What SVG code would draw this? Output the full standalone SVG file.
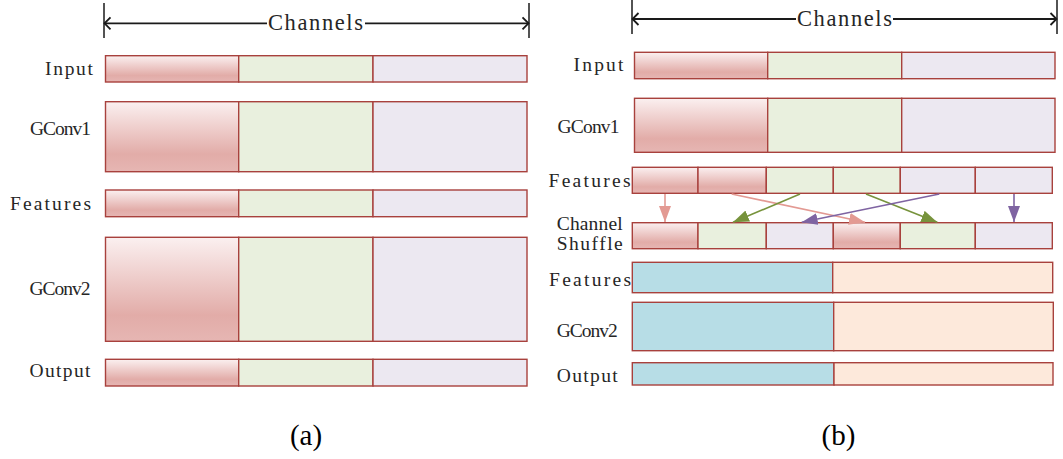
<svg xmlns="http://www.w3.org/2000/svg" width="1063" height="459" viewBox="0 0 1063 459">
<defs>
<linearGradient id="redg" x1="0" y1="0" x2="0" y2="1">
<stop offset="0" stop-color="#fbf0f0"/>
<stop offset="0.75" stop-color="#e2aca8"/>
<stop offset="1" stop-color="#e6b6b3"/>
</linearGradient>
<marker id="ah-pink" viewBox="0 0 16 12" refX="16" refY="6" markerWidth="16" markerHeight="12" markerUnits="userSpaceOnUse" orient="auto"><path d="M0,0 L16,6 L0,12 Z" fill="#e39a93"/></marker>
<marker id="ah-green" viewBox="0 0 16 12" refX="16" refY="6" markerWidth="16" markerHeight="12" markerUnits="userSpaceOnUse" orient="auto"><path d="M0,0 L16,6 L0,12 Z" fill="#77933c"/></marker>
<marker id="ah-purple" viewBox="0 0 16 12" refX="16" refY="6" markerWidth="16" markerHeight="12" markerUnits="userSpaceOnUse" orient="auto"><path d="M0,0 L16,6 L0,12 Z" fill="#7f64a2"/></marker>
</defs>
<style>
rect{stroke:#a8413d;stroke-width:1.4}
.r{fill:url(#redg)}
.g{fill:#e9f0de}
.l{fill:#ece8f1}
.b{fill:#b7dde6}
.p{fill:#fde9db}
.lab{font-family:"Liberation Serif","Times New Roman",serif;font-size:19.5px;fill:#262626}
.ch{font-family:"Liberation Serif","Times New Roman",serif;font-size:22.5px;fill:#262626}
.cap{font-family:"Liberation Serif","Times New Roman",serif;font-size:29px;fill:#000;text-anchor:middle}
.dim{stroke:#1a1a1a;stroke-width:1.8;fill:none}
.tick{stroke:#1a1a1a;stroke-width:1.5}
</style>
<rect x="0" y="0" width="1063" height="459" fill="#ffffff" style="stroke:none"/>

<!-- Panel (a) -->
<g id="a-channels">
<line class="tick" x1="104" y1="3" x2="104" y2="38"/>
<line class="tick" x1="529" y1="3" x2="529" y2="38"/>
<line class="dim" x1="104" y1="23.3" x2="267" y2="23.3"/>
<line class="dim" x1="365" y1="23.3" x2="529" y2="23.3"/>
<path class="dim" d="M110.5,17.3 L104.5,23.3 L110.5,29.3"/>
<path class="dim" d="M522.5,17.3 L528.5,23.3 L522.5,29.3"/>
<text class="ch" x="268" y="30" textLength="95" lengthAdjust="spacing">Channels</text>
</g>
<g id="a-input">
<text class="lab" x="45" y="75" textLength="48" lengthAdjust="spacing">Input</text>
<rect class="r" x="105.5" y="55.7" width="133.2" height="26.3"/>
<rect class="g" x="238.7" y="55.7" width="134.3" height="26.3"/>
<rect class="l" x="373" y="55.7" width="154" height="26.3"/>
</g>
<g id="a-gconv1">
<text class="lab" x="30" y="135" textLength="61" lengthAdjust="spacing">GConv1</text>
<rect class="r" x="105.5" y="101.7" width="133.2" height="70"/>
<rect class="g" x="238.7" y="101.7" width="134.3" height="70"/>
<rect class="l" x="373" y="101.7" width="154" height="70"/>
</g>
<g id="a-features">
<text class="lab" x="10" y="210" textLength="81" lengthAdjust="spacing">Features</text>
<rect class="r" x="105.5" y="190" width="133.2" height="26.7"/>
<rect class="g" x="238.7" y="190" width="134.3" height="26.7"/>
<rect class="l" x="373" y="190" width="154" height="26.7"/>
</g>
<g id="a-gconv2">
<text class="lab" x="29.5" y="295" textLength="61" lengthAdjust="spacing">GConv2</text>
<rect class="r" x="105.5" y="237.3" width="133.2" height="104"/>
<rect class="g" x="238.7" y="237.3" width="134.3" height="104"/>
<rect class="l" x="373" y="237.3" width="154" height="104"/>
</g>
<g id="a-output">
<text class="lab" x="29.5" y="377" textLength="61" lengthAdjust="spacing">Output</text>
<rect class="r" x="105.5" y="359.3" width="133.2" height="26.7"/>
<rect class="g" x="238.7" y="359.3" width="134.3" height="26.7"/>
<rect class="l" x="373" y="359.3" width="154" height="26.7"/>
</g>
<text id="a-caption" class="cap" x="306" y="445">(a)</text>

<!-- Panel (b) -->
<g id="b-channels">
<line class="tick" x1="632" y1="0" x2="632" y2="34"/>
<line class="tick" x1="1057" y1="0" x2="1057" y2="34"/>
<line class="dim" x1="632" y1="19" x2="796" y2="19"/>
<line class="dim" x1="893" y1="19" x2="1057" y2="19"/>
<path class="dim" d="M638.5,13 L632.5,19 L638.5,25"/>
<path class="dim" d="M1050.5,13 L1056.5,19 L1050.5,25"/>
<text class="ch" x="797" y="26" textLength="95" lengthAdjust="spacing">Channels</text>
</g>
<g id="b-input">
<text class="lab" x="573.5" y="71" textLength="50" lengthAdjust="spacing">Input</text>
<rect class="r" x="634.5" y="52.3" width="133.2" height="26.4"/>
<rect class="g" x="767.7" y="52.3" width="134" height="26.4"/>
<rect class="l" x="901.7" y="52.3" width="153.3" height="26.4"/>
</g>
<g id="b-gconv1">
<text class="lab" x="557.5" y="132.5" textLength="62" lengthAdjust="spacing">GConv1</text>
<rect class="r" x="634.5" y="98.3" width="133.2" height="54"/>
<rect class="g" x="767.7" y="98.3" width="134" height="54"/>
<rect class="l" x="901.7" y="98.3" width="153.3" height="54"/>
</g>
<g id="b-features1">
<text class="lab" x="548.5" y="187" textLength="82" lengthAdjust="spacing">Features</text>
<rect class="r" x="632.3" y="167.3" width="65.7" height="26"/>
<rect class="r" x="698" y="167.3" width="68.3" height="26"/>
<rect class="g" x="766.3" y="167.3" width="67" height="26"/>
<rect class="g" x="833.3" y="167.3" width="67" height="26"/>
<rect class="l" x="900.3" y="167.3" width="75" height="26"/>
<rect class="l" x="975.3" y="167.3" width="77" height="26"/>
</g>
<g id="b-shuffle">
<text class="lab" x="556.7" y="229.5" textLength="66" lengthAdjust="spacing">Channel</text>
<text class="lab" x="556.7" y="250" textLength="66" lengthAdjust="spacing">Shuffle</text>
<rect class="r" x="632.3" y="222.7" width="65.7" height="26"/>
<rect class="g" x="698" y="222.7" width="68.3" height="26"/>
<rect class="l" x="766.3" y="222.7" width="67" height="26"/>
<rect class="r" x="833.3" y="222.7" width="67" height="26"/>
<rect class="g" x="900.3" y="222.7" width="75" height="26"/>
<rect class="l" x="975.3" y="222.7" width="77" height="26"/>
</g>
<g id="b-features2">
<text class="lab" x="549" y="286" textLength="82" lengthAdjust="spacing">Features</text>
<rect class="b" x="632.3" y="262.3" width="200.4" height="30.4"/>
<rect class="p" x="832.7" y="262.3" width="220" height="30.4"/>
</g>
<g id="b-gconv2">
<text class="lab" x="556.7" y="337" textLength="61" lengthAdjust="spacing">GConv2</text>
<rect class="b" x="632.3" y="302.3" width="201.4" height="48.4"/>
<rect class="p" x="833.7" y="302.3" width="219.6" height="48.4"/>
</g>
<g id="b-output">
<text class="lab" x="556.7" y="382" textLength="61" lengthAdjust="spacing">Output</text>
<rect class="b" x="632.3" y="362.7" width="201.7" height="22.3"/>
<rect class="p" x="834" y="362.7" width="219" height="22.3"/>
</g>
<text id="b-caption" class="cap" x="838.5" y="445">(b)</text>

<g id="connectors" fill="none" stroke-width="1.6">
<line x1="665" y1="194" x2="665" y2="222" stroke="#e39a93" marker-end="url(#ah-pink)"/>
<line x1="731.7" y1="194" x2="865" y2="222.3" stroke="#e39a93" marker-end="url(#ah-pink)"/>
<line x1="800" y1="194" x2="733" y2="222.3" stroke="#77933c" marker-end="url(#ah-green)"/>
<line x1="866" y1="194" x2="937.3" y2="222.3" stroke="#77933c" marker-end="url(#ah-green)"/>
<line x1="939.3" y1="194" x2="801.7" y2="222.3" stroke="#7f64a2" marker-end="url(#ah-purple)"/>
<line x1="1014" y1="194" x2="1014" y2="222" stroke="#7f64a2" marker-end="url(#ah-purple)"/>
</g>
</svg>
